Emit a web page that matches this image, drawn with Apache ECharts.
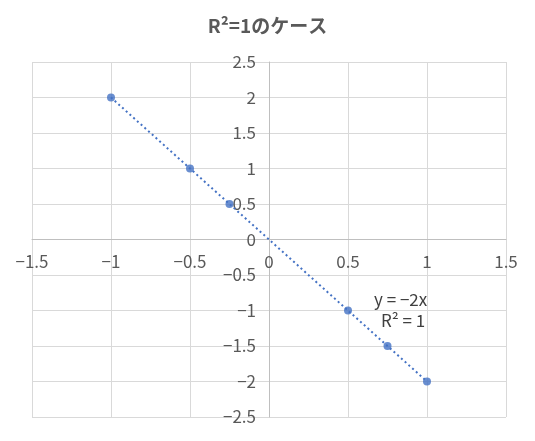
<!DOCTYPE html>
<html><head><meta charset="utf-8">
<script src="https://cdn.jsdelivr.net/npm/echarts@6/dist/echarts.min.js"></script>
<style>html,body{margin:0;padding:0;background:#fff}#c{width:535px;height:441px}</style>
</head><body><div id="c"></div>
<script>
const xValues = [-1, -0.5, -0.25, 0.5, 0.75, 1];
const yValues = [2, 1, 0.5, -1, -1.5, -2];
const trendX = [-1, 1];
const trendY = [2, -2];
const titleText = 'R²=1のケース';
const trendLabel = ['y = −2x', 'R² = 1'];

const font = '"Noto Sans CJK JP", "Noto Sans", sans-serif';
const fmt = v => String(v).replace('-', '−');
const W = 535, H = 441;
const G = { left: 32, right: 29, top: 62, bottom: 24 };
const chart = echarts.init(document.getElementById('c'));
chart.setOption({
  animation: false,
  title: { text: titleText, left: 'center', top: 11,
    textStyle: { fontFamily: font, fontSize: 19, fontWeight: 'bold', color: '#595959' } },
  grid: Object.assign({ containLabel: false, outerBoundsMode: 'none' }, G),
  xAxis: { type: 'value', min: -1.5, max: 1.5, interval: 0.5,
    offset: -(H - G.top - G.bottom) / 2,
    axisLine: { onZero: false, lineStyle: { color: '#bfbfbf', width: 1 } },
    axisTick: { show: false },
    splitLine: { lineStyle: { color: '#d9d9d9' } },
    axisLabel: { formatter: fmt, color: '#595959', fontSize: 17, fontFamily: font, margin: 14 } },
  yAxis: { type: 'value', min: -2.5, max: 2.5, interval: 0.5,
    offset: -(W - G.left - G.right) / 2,
    axisLine: { onZero: false, lineStyle: { color: '#bfbfbf', width: 1 } },
    axisTick: { show: false },
    splitLine: { lineStyle: { color: '#d9d9d9' } },
    axisLabel: { formatter: fmt, color: '#595959', fontSize: 17, fontFamily: font, margin: 13 } },
  series: [
    { type: 'line', data: trendX.map((x, i) => [x, trendY[i]]), symbol: 'none',
      lineStyle: { type: [2, 3], color: '#4472C4', width: 2 }, z: 2 },
    { type: 'scatter', data: xValues.map((x, i) => [x, yValues[i]]), symbolSize: 8,
      itemStyle: { color: '#4472C4' }, z: 3 }
  ],
  graphic: [
    { type: 'text', left: 374, top: 291, style: { text: trendLabel[0], fill: '#404040', font: '17px ' + font } },
    { type: 'text', left: 381, top: 312, style: { text: trendLabel[1], fill: '#404040', font: '17px ' + font } }
  ]
});
</script></body></html>
